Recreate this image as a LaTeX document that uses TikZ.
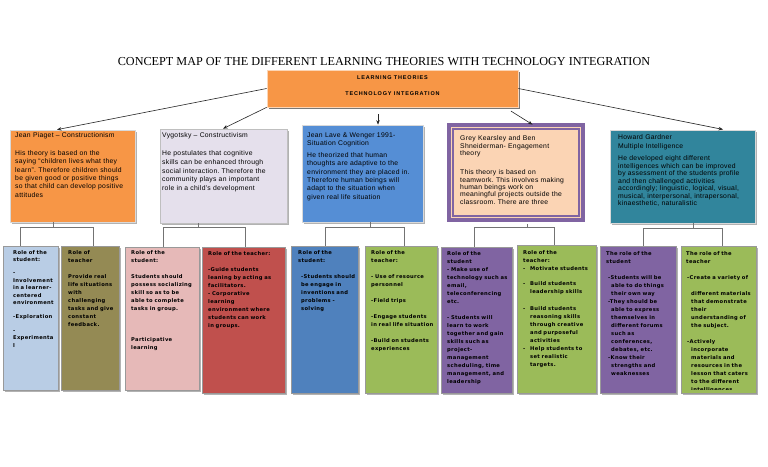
\documentclass[tikz,border=0pt]{standalone}
\usepackage{fontspec}
\setmainfont{Liberation Serif}
\newfontfamily\thfont[LetterSpace=4]{Liberation Sans}
\newfontfamily\hdfont[LetterSpace=15]{Liberation Sans}
\newfontfamily\rlfont[LetterSpace=6]{DejaVu Sans}
\usetikzlibrary{shadows,fit,arrows.meta,calc}
\frenchspacing
\definecolor{orng}{HTML}{F79646}
\definecolor{lav}{HTML}{E5E0EC}
\definecolor{bluA}{HTML}{558ED5}
\definecolor{peach}{HTML}{FBD4B4}
\definecolor{purp}{HTML}{8064A2}
\definecolor{tealA}{HTML}{31859C}
\definecolor{lblu}{HTML}{B9CDE5}
\definecolor{olive}{HTML}{948A54}
\definecolor{pinkA}{HTML}{E6B9B8}
\definecolor{redA}{HTML}{C0504D}
\definecolor{bluB}{HTML}{4F81BD}
\definecolor{grn}{HTML}{9BBB59}
\begin{document}
\begin{tikzpicture}[x=1pt,y=-1pt,
  shd/.style={drop shadow={shadow xshift=1.5pt,shadow yshift=-1.5pt,fill=black!60,opacity=0.5}},
  tbox/.style={inner sep=0pt,shd,draw=white!85!black,line width=0.7pt},
  bbox/.style={inner sep=0pt,shd,draw=black!40,line width=0.6pt},
  ttxt/.style={anchor=base west,inner sep=0pt,text width=150pt,align=left,
    font=\thfont\frenchspacing\fontsize{6.8}{#1}\selectfont,text=black},
  ttxt/.default=8.4,
  btxt/.style={anchor=base west,inner sep=0pt,text width=100pt,align=left,
    font=\rlfont\bfseries\frenchspacing\fontsize{5.2}{#1}\selectfont,text=black},
  btxt/.default=8,
  hdtxt/.style={inner sep=0pt,font=\hdfont\bfseries\fontsize{5.5}{6}\selectfont},
  arr/.style={-{Stealth[length=4.5pt,width=3.5pt]},line width=0.6pt,black!85},
  brk/.style={line width=0.6pt,black!55}]
\useasboundingbox[fill=white] (0,0) rectangle (768,466);

% title
\node[inner sep=0pt,font=\fontsize{12.2}{14}\selectfont] (title) at (384,62)
  {CONCEPT MAP OF THE DIFFERENT LEARNING THEORIES WITH TECHNOLOGY INTEGRATION};

% top box
\node[inner sep=0pt,fill=orng,draw=orng!40!white,line width=0.7pt,
  drop shadow={shadow xshift=1.5pt,shadow yshift=-1.5pt,fill=black!75,opacity=0.7},
  fit={(267,70)(518,107)}] (top) {};
\node[hdtxt] (topa) at (392.5,78) {LEARNING THEORIES};
\node[hdtxt] (topb) at (392.5,94) {TECHNOLOGY INTEGRATION};

% theory boxes
\node[tbox,fill=orng,fit={(10,130)(135,222)}] (t1) {};
\node[tbox,fill=lav,draw=black!25,fit={(160,129)(287,223)}] (t2) {};
\node[tbox,fill=bluA,fit={(302,125)(423,222)}] (t3) {};
\node[inner sep=0pt,shd,fill=peach,draw=purp,line width=4pt,fit={(449,125)(583,220)}] (t4) {};
\draw[purp,line width=1.8pt] ($(t4.north west)+(5.7,5.7)$) rectangle ($(t4.south east)+(-5.7,-5.7)$);
\node[tbox,fill=tealA,fit={(610,130)(755,223)}] (t5) {};

\node[ttxt=8.33] (t1x) at (15,137.5) {Jean Piaget – Constructionism\\[9.7pt]His theory is based on the\\saying “children lives what they\\learn”. Therefore children should\\be given good or positive things\\so that child can develop positive\\attitudes};
\node[ttxt=8.75] (t2x) at (162,137.5) {Vygotsky – Constructivism\\[9.25pt]He postulates that cognitive\\skills can be enhanced through\\social interaction. Therefore the\\community plays an important\\role in a child’s development};
\node[ttxt=8.33] (t3x) at (307,137.5) {Jean Lave \& Wenger 1991-\\Situation Cognition\\[3.3pt]He theorized that human\\thoughts are adaptive to the\\environment they are placed in.\\Therefore human beings will\\adapt to the situation when\\given real life situation};
\node[ttxt=7.4] (t4x) at (460,140.7) {Grey Kearsley and Ben\\Shneiderman- Engagement\\theory\\[11.8pt]This theory is based on\\teamwork. This involves making\\human beings work on\\meaningful projects outside the\\classroom. There are three};
\node[ttxt=7.5] (t5x) at (618,139.1) {Howard Gardner\\[1.5pt]Multiple Intelligence\\[5.1pt]He developed eight different\\intelligences which can be improved\\by assessment of the students profile\\and then challenged activities\\accordingly; linguistic, logical, visual,\\musical, interpersonal, intrapersonal,\\kinaesthetic, naturalistic};

% arrows from top box
\draw[arr] (top.west) -- (t1.north -| 57,0);
\draw[arr] (top.south west) -- (t2.north -| 223,0);
\draw[arr,shorten <=7pt] (top.south -| 378,0) -- (t3.north -| 378,0);
\draw[arr,shorten <=7pt,shorten >=-3pt] (top.south -| 505,0) -- (t4.north -| 530,0);
\draw[arr,shorten >=1pt] (top.east) -- (t5.north -| 724,0);

% bottom boxes
\node[bbox,fill=lblu,fit={(3,246)(58,390)}] (s1) {};
\node[bbox,fill=olive,fit={(61,246)(119,390)}] (r1) {};
\node[bbox,fill=pinkA,fit={(125,247)(199,390)}] (s2) {};
\node[bbox,fill=redA,fit={(202,247)(285,393)}] (r2) {};
\node[bbox,fill=bluB,fit={(291,246)(358,393)}] (s3) {};
\node[bbox,fill=grn,fit={(365,246)(437,393)}] (r3) {};
\node[bbox,fill=purp,fit={(441,247)(512,393)}] (s4) {};
\node[bbox,fill=grn,fit={(517,245)(596,393)}] (r4) {};
\node[bbox,fill=purp,fit={(600,246)(676,393)}] (s5) {};
\node[bbox,fill=grn,fit={(681,246)(756,393)}] (r5) {};

% brackets
\coordinate (j1) at (53,227); \coordinate (h1a) at (20,227); \coordinate (h1b) at (93,227);
\coordinate (j2) at (198,227); \coordinate (h2a) at (163,227); \coordinate (h2b) at (245,227);
\coordinate (j3) at (370,227); \coordinate (h3a) at (325,227); \coordinate (h3b) at (404,227);
\coordinate (j4) at (527,227.5); \coordinate (h4a) at (474,227.5); \coordinate (h4b) at (554,227.5);
\coordinate (j5) at (693,228); \coordinate (h5a) at (643,228); \coordinate (h5b) at (722,228);
\draw[brk] (t1.south -| j1) -- (j1);
\draw[brk] (s1.north -| h1a) -- (h1a) -- (h1b) -- (r1.north -| h1b);
\draw[brk] (t2.south -| j2) -- (j2);
\draw[brk] (s2.north -| h2a) -- (h2a) -- (h2b) -- (r2.north -| h2b);
\draw[brk] (t3.south -| j3) -- (j3);
\draw[brk] (s3.north -| h3a) -- (h3a) -- (h3b) -- (r3.north -| h3b);
\draw[brk] ($(t4.south -| j4)+(0,2)$) -- (j4);
\draw[brk] (s4.north -| h4a) -- (h4a) -- (h4b) -- (r4.north -| h4b);
\draw[brk] (t5.south -| j5) -- (j5);
\draw[brk] (s5.north -| h5a) -- (h5a) -- (h5b) -- (r5.north -| h5b);

% bottom texts
\node[btxt=7.4] (s1x) at (13,254.5) {Role of the\\student:\\[5.5pt]-\\Involvement\\in a learner-\\centered\\environment\\[6.7pt]-Exploration\\[6.6pt]-\\Experimenta\\l};
\node[btxt] (r1x) at (68,254.5) {Role of\\teacher\\[8pt]Provide real\\life situations\\with\\challenging\\tasks and give\\constant\\feedback.};
\node[btxt] (s2x) at (131,254.5) {Role of the\\student:\\[8pt]Students should\\possess socializing\\skill so as to be\\able to complete\\tasks in group.\\[23pt]Participative\\learning};
\node[btxt] (r2x) at (208,255.1) {Role of the teacher:\\[8pt]-Guide students\\leaning by acting as\\facilitators.\\- Corporative\\learning\\environment where\\students can work\\in groups.};
\node[btxt] (s3x) at (298,254.5) {Role of the\\student:\\[8pt]\hspace{3pt}-Students should\\\hspace{3pt}be engage in\\\hspace{3pt}inventions and\\\hspace{3pt}problems -\\\hspace{3pt}solving};
\node[btxt] (r3x) at (371,254.5) {Role of the\\teacher:\\[8pt]- Use of resource\\personnel\\[8pt]-Field trips\\[7.7pt]-Engage students\\in real life situation\\[8pt]-Build on students\\experiences};
\node[btxt] (s4x) at (447,255.8) {Role of the\\student\\- Make use of\\technology such as\\email,\\teleconferencing\\etc.\\[7.7pt]- Students will\\learn to work\\together and gain\\skills such as\\project-\\management\\scheduling, time\\management, and\\leadership};
\node[btxt] (r4x) at (523,254.5) {Role of the\\teacher:\\\makebox[7pt][l]{-}Motivate students\\[7pt]\makebox[7pt][l]{-}Build students\\\hspace{7pt}leadership skills\\[8.7pt]\makebox[7pt][l]{-}Build students\\\hspace{7pt}reasoning skills\\\hspace{7pt}through creative\\\hspace{7pt}and purposeful\\\hspace{7pt}activities\\\makebox[7pt][l]{-}Help students to\\\hspace{7pt}set realistic\\\hspace{7pt}targets.};
\node[btxt] (s5x) at (606,255.8) {The role of the\\student\\[8pt]\hspace{2pt}-Students will be\\\hspace{5pt}able to do things\\\hspace{5pt}their own way\\\hspace{2pt}-They should be\\\hspace{5pt}able to express\\\hspace{5pt}themselves in\\\hspace{5pt}different forums\\\hspace{5pt}such as\\\hspace{5pt}conferences,\\\hspace{5pt}debates, etc.\\\hspace{2pt}-Know their\\\hspace{5pt}strengths and\\\hspace{5pt}weaknesses};
\begin{scope}
\clip (681,246) rectangle (756,389.5);
\node[btxt] (r5x) at (686,255.8) {The role of the\\teacher\\[8pt]\hspace{1pt}-Create a variety of\\[7.3pt]\hspace{5pt}different materials\\\hspace{5pt}that demonstrate\\\hspace{5pt}their\\\hspace{5pt}understanding of\\\hspace{5pt}the subject.\\[8pt]\hspace{1pt}-Actively\\\hspace{5pt}incorporate\\\hspace{5pt}materials and\\\hspace{5pt}resources in the\\\hspace{5pt}lesson that caters\\\hspace{5pt}to the different\\\hspace{5pt}intelligences};
\end{scope}
\end{tikzpicture}
\end{document}
